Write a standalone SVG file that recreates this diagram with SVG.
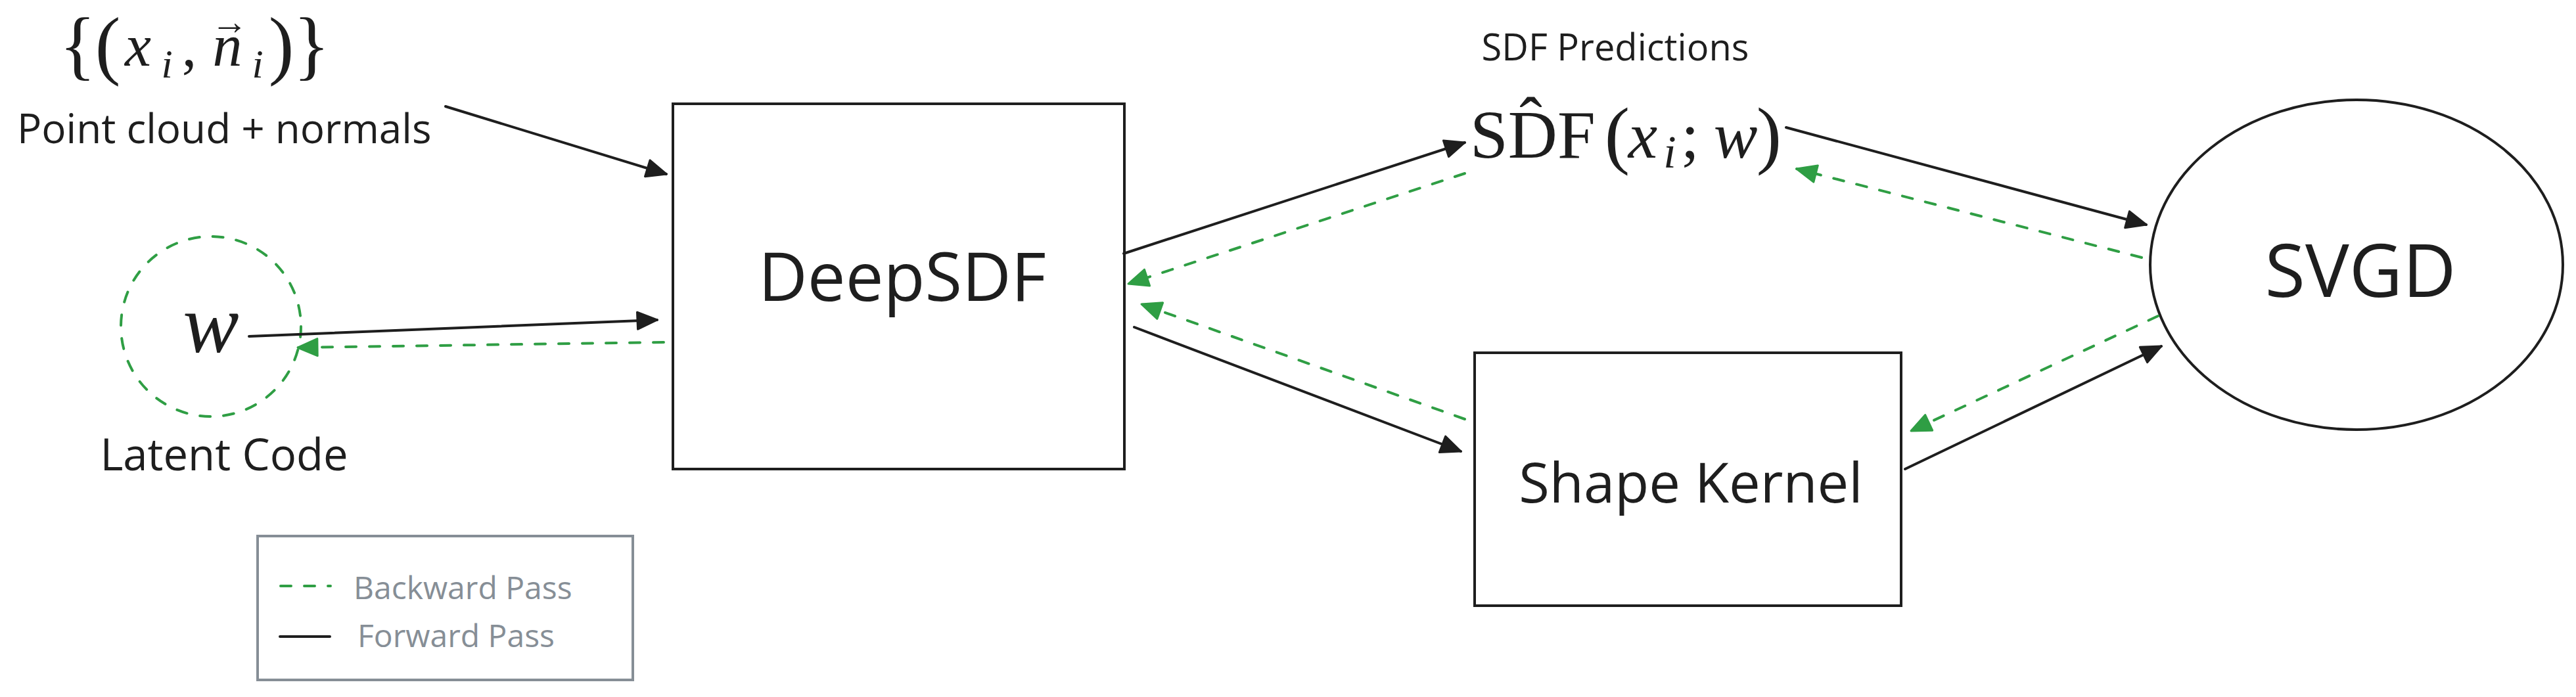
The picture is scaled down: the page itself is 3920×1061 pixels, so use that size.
<svg xmlns="http://www.w3.org/2000/svg" width="3920" height="1061" viewBox="0 0 3920 1061">
<style>
.t{font-family:"Open Sans","Liberation Sans",sans-serif;fill:#1e1e1e}
.lg{font-family:"Open Sans","Liberation Sans",sans-serif;fill:#868e96;font-size:48px}
.m{font-family:"Liberation Serif","DejaVu Serif","Times New Roman",serif;fill:#1e1e1e}
.i{font-style:italic}
.box{fill:#fff;stroke:#1e1e1e;stroke-width:4}
.fw{fill:none;stroke:#1e1e1e;stroke-width:4;stroke-linecap:round}
.bw{fill:none;stroke:#2f9e44;stroke-width:4;stroke-linecap:round;stroke-dasharray:16 20}
</style>
<defs>
<marker id="ahk" markerUnits="userSpaceOnUse" viewBox="-36 -18 40 36" markerWidth="40" markerHeight="36" refX="0" refY="0" orient="auto">
<path d="M0,0 L-30,-13 L-30,13 Z" fill="#1e1e1e" stroke="#1e1e1e" stroke-width="3" stroke-linejoin="round"/>
</marker>
<marker id="ahg" markerUnits="userSpaceOnUse" viewBox="-36 -18 40 36" markerWidth="40" markerHeight="36" refX="0" refY="0" orient="auto">
<path d="M0,0 L-30,-13 L-30,13 Z" fill="#2f9e44" stroke="#2f9e44" stroke-width="3" stroke-linejoin="round"/>
</marker>
</defs>
<rect width="3920" height="1061" fill="#fff"/>

<g id="pointcloud">
<text class="m" text-anchor="middle"><tspan x="118" y="107" font-size="116">{</tspan><tspan x="164" y="107" font-size="116">(</tspan><tspan class="i" x="210" y="100" font-size="90">x</tspan><tspan class="i" x="254" y="118" font-size="62">i</tspan><tspan x="288" y="100" font-size="90">,</tspan><tspan class="i" x="346" y="100" font-size="90">n</tspan><tspan x="349" y="52" font-size="56">→</tspan><tspan class="i" x="392" y="118" font-size="62">i</tspan><tspan x="428" y="107" font-size="116">)</tspan><tspan x="474" y="107" font-size="116">}</tspan></text>
<text class="t" x="26" y="218" font-size="62">Point cloud + normals</text>
</g>

<g id="latent">
<circle cx="321" cy="497" r="137" fill="none" stroke="#2f9e44" stroke-width="4" stroke-linecap="round" stroke-dasharray="16 20"/>
<text class="m i" x="321" y="536" font-size="128" text-anchor="middle">w</text>
<text class="t" x="341" y="716" font-size="67" text-anchor="middle">Latent Code</text>
</g>

<g id="deepsdf">
<rect class="box" x="1024" y="158" width="687" height="556"/>
<text class="t" x="1373" y="458" font-size="103" text-anchor="middle">DeepSDF</text>
</g>

<g id="sdfpred">
<text class="t" x="2458" y="92" font-size="56" text-anchor="middle">SDF Predictions</text>
<text class="m"><tspan x="2237" y="240" font-size="104">SD&#x302;F</tspan><tspan x="2461" y="243" font-size="115" text-anchor="middle">(</tspan><tspan class="i" x="2500" y="240" font-size="100" text-anchor="middle">x</tspan><tspan class="i" x="2541" y="255" font-size="70" text-anchor="middle">i</tspan><tspan x="2572" y="240" font-size="100" text-anchor="middle">;</tspan><tspan class="i" x="2641" y="240" font-size="100" text-anchor="middle">w</tspan><tspan x="2692" y="243" font-size="115" text-anchor="middle">)</tspan></text>
</g>

<g id="shapekernel">
<rect class="box" x="2244" y="537" width="649" height="385"/>
<text class="t" x="2573" y="765" font-size="85" text-anchor="middle">Shape Kernel</text>
</g>

<g id="svgd">
<ellipse cx="3586" cy="403" rx="314" ry="251" fill="#fff" stroke="#1e1e1e" stroke-width="4"/>
<text class="t" x="3592" y="452" font-size="112" text-anchor="middle">SVGD</text>
</g>

<g id="connectors">
<line class="fw" x1="678" y1="162" x2="1014" y2="265" marker-end="url(#ahk)"/>
<line class="fw" x1="379" y1="512" x2="1000" y2="487" marker-end="url(#ahk)"/>
<line class="bw" x1="1010" y1="521" x2="453" y2="529" marker-end="url(#ahg)"/>
<line class="fw" x1="1710" y1="386" x2="2229" y2="217" marker-end="url(#ahk)"/>
<line class="bw" x1="2229" y1="264" x2="1717" y2="432" marker-end="url(#ahg)"/>
<line class="bw" x1="2229" y1="638" x2="1737" y2="463" marker-end="url(#ahg)"/>
<line class="fw" x1="1726" y1="498" x2="2223" y2="687" marker-end="url(#ahk)"/>
<line class="fw" x1="2718" y1="194" x2="3266" y2="342" marker-end="url(#ahk)"/>
<line class="bw" x1="3259" y1="392" x2="2734" y2="257" marker-end="url(#ahg)"/>
<line class="bw" x1="3284" y1="481" x2="2908" y2="656" marker-end="url(#ahg)"/>
<line class="fw" x1="2899" y1="714" x2="3289" y2="527" marker-end="url(#ahk)"/>
</g>

<g id="legend">
<rect x="392" y="816" width="571" height="219" fill="none" stroke="#868e96" stroke-width="4"/>
<line x1="427" y1="892" x2="503" y2="892" stroke="#2f9e44" stroke-width="4" stroke-linecap="round" stroke-dasharray="16 20"/>
<line x1="426" y1="969" x2="502" y2="969" stroke="#1e1e1e" stroke-width="4" stroke-linecap="round"/>
<text class="lg" x="538" y="912">Backward Pass</text>
<text class="lg" x="544" y="985">Forward Pass</text>
</g>
</svg>
